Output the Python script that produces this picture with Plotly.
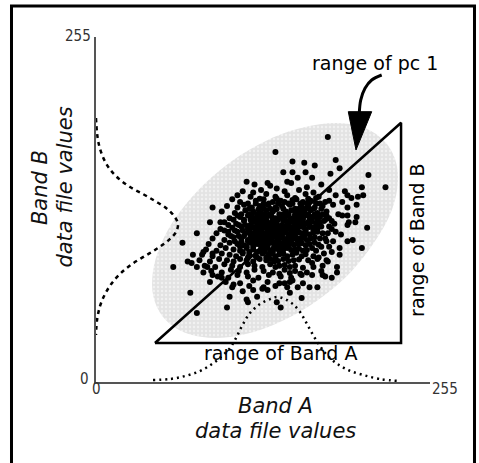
import plotly.graph_objects as go

# ---------------- data (axis units 0..255) ----------------
axis_ticks = [0, 255]
axis_tick_text = ["0", "255"]

# marginal distribution of Band B (drawn against the y axis): x = density, y = Band B value
band_b_curve_density = [0, 0.8, 2.3, 5.3, 9.9, 16.8, 26.0, 35.9, 45.0, 53.5, 59.6, 62.6,
                        61.1, 55.7, 47.3, 37.4, 27.5, 19.1, 12.2, 6.9, 3.1, 0.8, 0]
band_b_curve_value = [195.1, 184.0, 175.2, 166.3, 158.2, 150.8, 144.1, 138.9, 133.8, 128.6, 122.7, 116.8,
                      110.9, 105.0, 99.0, 93.1, 87.2, 80.6, 73.2, 65.0, 56.2, 45.8, 34.7]

# marginal distribution of Band A (drawn against the x axis)
band_a_curve_value = [43.5, 56.5, 68.0, 79.4, 88.6, 96.2, 102.3, 106.9, 111.5, 117.6, 125.2, 132.9, 138.2,
                      144.3, 150.4, 155.8, 160.3, 164.9, 169.5, 175.6, 183.3, 192.4, 203.9, 216.8, 232.1]
band_a_curve_density = [1.5, 2.2, 4.4, 8.1, 13.3, 19.2, 25.1, 32.5, 41.4, 51.0, 57.6, 61.3, 62.8,
                        61.3, 57.6, 51.7, 44.3, 36.2, 28.8, 20.7, 14.0, 8.9, 5.2, 2.2, 0.7]

# outline of the shaded data region
region_band_a = [222.6, 229.5, 230.0, 224.1, 212.3, 195.3, 174.4, 150.9, 126.4, 102.5, 81.1, 63.4,
                 50.7, 43.8, 43.4, 49.2, 61.0, 78.0, 98.9, 122.5, 147.0, 170.8, 192.2, 210.0, 222.6]
region_band_b = [175.3, 160.8, 142.9, 122.9, 103.1, 82.1, 64.1, 49.3, 38.8, 33.3, 33.2, 38.4,
                 48.6, 63.2, 81.1, 101.0, 121.7, 141.8, 159.9, 174.6, 185.1, 190.6, 190.8, 185.6, 175.3]

# range triangle (pc 1 diagonal, range of Band A, range of Band B)
triangle_band_a = [45.0, 232.9, 232.9, 45.0]
triangle_band_b = [28.8, 191.6, 28.8, 28.8]

# curved arrow pointing to pc 1
arrow_shaft_a = [218.1, 210.5, 205.4, 202.1, 201.0]
arrow_shaft_b = [226.9, 223.2, 217.1, 208.4, 198.6]
arrow_head_a = [192.6, 210.5, 198.5, 192.6]
arrow_head_b = [199.8, 199.8, 171.5, 199.8]

# scattered pixels (Band A, Band B)
cloud_points = [
    # sparse outer pixels
    (177, 181), (137, 170), (150, 163), (159, 162), (167, 160), (183, 164), (143, 155), (150, 155),
    (160, 155), (179, 154), (208, 153), (221, 144), (115, 148), (131, 147), (146, 148), (203, 144),
    (200, 137), (199, 122), (207, 114), (196, 105), (203, 99), (186, 94), (184, 85), (175, 78),
    (169, 70), (157, 62), (141, 55), (148, 66), (144, 73), (131, 68), (120, 68), (115, 61),
    (123, 63), (102, 63), (100, 55), (112, 67), (72, 66), (77, 51), (59, 85), (66, 103),
    (77, 110), (89, 129), (95, 118), (87, 118), (104, 135), (108, 129), (73, 88), (77, 85),
    (85, 85), (89, 95), (120, 140), (101, 111), (108, 123), (82, 96), (74, 94), (70, 89),
    (82, 81), (89, 79), (87, 74), (96, 77), (105, 72), (116, 59), (128, 70),
    (186, 158), (154, 151), (165, 151), (192, 138), (204, 138), (199, 131), (192, 123), (198, 118),
    (192, 116), (186, 99), (192, 104), (180, 96), (177, 89), (184, 81), (180, 77), (173, 79),
    (154, 70), (138, 59),
    # main cluster
    (121, 146), (133, 145), (149, 147), (161, 144), (172, 146),
    (112, 141), (126, 142), (138, 143), (144, 141), (155, 142), (166, 140), (178, 142), (190, 141),
    (108, 138), (118, 137), (130, 139), (137, 137), (146, 138), (152, 136), (160, 139), (170, 137),
    (183, 138), (195, 136),
    (110, 133), (122, 134), (128, 135), (135, 133), (141, 134), (147, 132), (153, 135), (158, 133),
    (164, 134), (171, 132), (178, 134), (188, 133),
    (100, 130), (113, 131), (119, 129), (125, 130), (131, 131), (137, 129), (142, 130), (148, 131),
    (152, 128), (157, 130), (162, 131), (167, 129), (173, 130), (181, 131), (192, 129),
    (96, 126), (106, 125), (114, 127), (120, 126), (126, 125), (130, 127), (135, 126), (140, 124),
    (145, 126), (149, 127), (154, 125), (159, 126), (164, 127), (169, 125), (176, 126), (185, 124),
    (102, 121), (110, 122), (116, 123), (121, 121), (127, 122), (132, 123), (137, 121), (141, 122),
    (146, 123), (150, 121), (155, 122), (160, 123), (165, 121), (171, 122), (178, 121), (188, 123),
    (98, 118), (107, 117), (113, 119), (119, 118), (124, 117), (129, 119), (134, 118), (138, 117),
    (143, 119), (148, 118), (152, 117), (157, 119), (162, 118), (168, 117), (174, 119), (182, 117),
    (193, 118),
    (95, 113), (104, 114), (111, 115), (116, 113), (121, 114), (126, 115), (131, 113), (136, 114),
    (140, 115), (145, 113), (150, 114), (155, 115), (160, 113), (166, 114), (172, 115), (180, 113),
    (92, 110), (101, 109), (108, 111), (114, 110), (119, 109), (124, 111), (128, 110), (133, 109),
    (138, 111), (142, 110), (147, 109), (152, 111), (157, 110), (163, 109), (169, 111), (177, 110),
    (187, 109),
    (89, 106), (98, 105), (105, 107), (111, 106), (116, 105), (121, 107), (126, 106), (131, 105),
    (135, 107), (140, 106), (145, 105), (150, 107), (155, 106), (161, 105), (167, 107), (175, 106),
    (86, 102), (95, 101), (102, 103), (108, 102), (113, 101), (118, 103), (123, 102), (128, 101),
    (133, 103), (138, 102), (143, 101), (148, 103), (154, 102), (160, 101), (167, 103),
    (84, 98), (92, 97), (99, 99), (105, 98), (110, 97), (115, 99), (120, 98), (125, 97),
    (130, 99), (135, 98), (140, 97), (146, 99), (152, 98), (158, 97), (165, 99),
    (81, 94), (89, 93), (96, 95), (102, 94), (107, 93), (112, 95), (117, 94), (122, 93),
    (127, 95), (132, 94), (137, 93), (143, 95), (150, 94), (157, 93),
    (79, 90), (87, 89), (94, 91), (100, 90), (105, 89), (110, 91), (115, 90), (120, 89),
    (125, 91), (130, 90), (136, 89), (143, 91), (151, 90),
    (83, 86), (91, 85), (98, 87), (104, 86), (110, 85), (116, 87), (121, 86), (127, 85),
    (133, 87), (140, 86), (148, 85),
    (88, 82), (96, 81), (103, 83), (109, 82), (115, 81), (121, 83), (128, 82), (135, 81),
    (144, 83), (152, 82), (161, 81),
    (93, 78), (101, 77), (108, 79), (116, 78), (124, 77), (132, 79), (141, 78), (149, 77), (157, 79),
    (99, 74), (110, 73), (120, 75), (131, 74), (140, 73), (150, 75),
    (104, 70), (117, 71), (127, 69), (137, 71), (146, 70),
    # dense core
    (116, 132), (132, 132), (144, 133), (150, 132), (161, 132), (175, 133),
    (117, 128), (128, 128), (133, 128), (138, 128), (143, 128), (155, 128), (160, 128), (166, 128), (172, 128),
    (111, 124), (117, 124), (123, 124), (129, 124), (133, 124), (143, 124), (147, 124), (152, 124),
    (157, 124), (162, 124), (167, 124), (173, 124),
    (105, 120), (113, 120), (118, 120), (124, 120), (130, 120), (135, 120), (139, 120), (144, 120),
    (148, 120), (153, 120), (158, 120), (163, 120), (169, 120), (175, 120),
    (101, 116), (109, 116), (114, 116), (118, 116), (123, 116), (128, 116), (133, 116), (137, 116),
    (142, 116), (147, 116), (152, 116), (157, 116), (163, 116), (170, 116),
    (98, 112), (106, 112), (112, 112), (117, 112), (122, 112), (126, 112), (131, 112), (135, 112),
    (140, 112), (144, 112), (149, 112), (154, 112), (160, 112), (166, 112),
    (103, 108), (109, 108), (113, 108), (118, 108), (123, 108), (128, 108), (132, 108), (137, 108),
    (142, 108), (147, 108), (152, 108), (159, 108),
    (106, 104), (111, 104), (116, 104), (120, 104), (125, 104), (129, 104), (134, 104), (139, 104),
    (144, 104), (149, 104), (156, 104),
    (110, 100), (115, 100), (120, 100), (126, 100), (131, 100), (136, 100), (141, 100), (147, 100),
    (112, 96), (117, 96), (123, 96), (129, 96), (135, 96), (142, 96),
    (116, 92), (123, 92), (130, 92), (137, 92),
    # darkest part of the core
    (125, 135.5), (138, 135.5), (150, 134.5), (162, 135.5), (168, 136),
    (122, 132), (128, 132), (139, 132), (156, 132), (168, 132),
    (124, 127.5), (137, 127.5), (152, 127), (157, 127.5), (162, 129),
    (119, 123.5), (124, 122.5), (134, 122.5), (144, 121.5), (152, 122.5), (158, 121.5), (163, 122.5), (168, 122.5),
    (121, 118.5), (126, 118.5), (131, 117), (136, 118.5), (146, 117), (150, 118.5), (155, 117.5), (160, 117),
    (165, 118.5), (171, 118),
    (119, 114.5), (124, 113.5), (129, 114), (134, 112.5), (138, 113.5), (143, 114.5), (148, 113), (153, 113),
    (158, 114.5), (163, 114.5), (169, 113),
    (117, 110.5), (121, 110.5), (126, 109), (131, 110.5), (135, 110), (140, 109), (145, 110.5), (150, 109.5),
    (155, 110.5), (160, 110.5), (166, 110.5), (173, 110),
    (119, 106.5), (124, 105.5), (129, 106.5), (133, 106), (138, 106.5), (143, 106.5), (148, 105.5), (153, 105.5),
    (158, 106.5), (164, 106), (171, 106),
    (121, 102.5), (126, 103), (131, 102), (136, 103), (141, 102.5), (146, 101.5), (151, 101.5), (157, 102.5),
    (163, 102), (170, 101.5),
    (128, 98.5), (133, 97), (138, 98.5), (143, 98), (149, 97.5), (155, 98.5), (161, 97.5), (168, 97),
    (134, 95), (140, 94.5), (146, 93), (153, 95.5), (160, 94.5), (166, 93),
    (133, 91), (139, 89.5), (147, 89.5), (155, 90.5), (162, 90), (169, 91),
    (137, 85), (144, 86.5), (152, 86), (158, 84.5), (166, 85), (173, 86),
    (140, 80), (148, 80.5), (156, 80), (165, 79), (148, 74), (158, 73), (163, 70),
    # right flank of the core
    (176, 123), (180, 119), (178, 115), (183, 111), (176, 104), (181, 104), (172, 100), (178, 100),
    (174, 95), (170, 92), (176, 90), (165, 88), (172, 82),
]
cloud_band_a = [p[0] for p in cloud_points]
cloud_band_b = [p[1] for p in cloud_points]

# ---------------- figure ----------------
fig = go.Figure()

fig.add_trace(go.Scatter(
    x=region_band_a, y=region_band_b, mode="lines", line=dict(width=0, shape="spline"),
    fill="toself", fillcolor="#e6e6e6",
    fillpattern=dict(shape=".", bgcolor="#e3e3e3", fgcolor="#ffffff", size=4, solidity=0.3),
    hoverinfo="skip"))

fig.add_trace(go.Scatter(
    x=band_b_curve_density, y=band_b_curve_value, mode="lines",
    line=dict(color="black", width=2.5, dash="4px,4px", shape="spline"), hoverinfo="skip"))

fig.add_trace(go.Scatter(
    x=band_a_curve_value, y=band_a_curve_density, mode="lines",
    line=dict(color="black", width=2.5, dash="2px,4px", shape="spline"), hoverinfo="skip"))

fig.add_trace(go.Scatter(
    x=cloud_band_a, y=cloud_band_b, mode="markers",
    marker=dict(color="black", size=6, line=dict(width=0)), hoverinfo="skip"))

fig.add_trace(go.Scatter(
    x=triangle_band_a, y=triangle_band_b, mode="lines",
    line=dict(color="black", width=2.5), hoverinfo="skip"))

fig.add_trace(go.Scatter(
    x=arrow_shaft_a, y=arrow_shaft_b, mode="lines",
    line=dict(color="black", width=3, shape="spline"), hoverinfo="skip"))

fig.add_trace(go.Scatter(
    x=arrow_head_a, y=arrow_head_b, mode="lines", line=dict(color="black", width=1),
    fill="toself", fillcolor="black", hoverinfo="skip"))

label_font = dict(family="DejaVu Sans", size=19, color="black")
title_font = dict(family="DejaVu Sans", size=21, color="#111111", style="italic")
tick_font = dict(family="Liberation Sans Narrow, DejaVu Sans Condensed, sans-serif", size=15, color="#333333")

annotations = [
    dict(x=213.0, y=235.5, xref="x", yref="y", text="range of pc 1", font=label_font),
    dict(x=140.5, y=21.1, xref="x", yref="y", text="range of Band A", font=label_font),
    dict(x=244.6, y=105.3, xref="x", yref="y", text="range of Band B", font=label_font, textangle=-90),
    dict(x=0.536, y=-0.0696, xref="paper", yref="paper", text="Band A", font=title_font),
    dict(x=0.536, y=-0.142, xref="paper", yref="paper", text="data file values", font=title_font),
    dict(x=-0.1677, y=0.565, xref="paper", yref="paper", text="Band B", font=title_font, textangle=-90),
    dict(x=-0.0913, y=0.565, xref="paper", yref="paper", text="data file values", font=title_font, textangle=-90),
    # tick labels
    dict(x=axis_ticks[0], y=0, xref="x", yref="y", text=axis_tick_text[0], font=tick_font,
         xanchor="center", yshift=-7),
    dict(x=axis_ticks[1], y=0, xref="x", yref="y", text=axis_tick_text[1], font=tick_font,
         xanchor="left", yshift=-7),
    dict(x=0, y=axis_ticks[0], xref="x", yref="y", text=axis_tick_text[0], font=tick_font,
         xanchor="right", xshift=-5, yshift=3.5),
    dict(x=0, y=axis_ticks[1], xref="x", yref="y", text=axis_tick_text[1], font=tick_font,
         xanchor="right", xshift=-3, yshift=1),
]
for a in annotations:
    a["showarrow"] = False
    a.setdefault("xanchor", "center")
    a.setdefault("yanchor", "middle")

fig.update_layout(
    width=479, height=463,
    margin=dict(l=96, r=49, t=37, b=81, pad=0),
    paper_bgcolor="white", plot_bgcolor="white",
    showlegend=False,
    annotations=annotations,
    shapes=[dict(type="path", xref="paper", yref="paper",
                 path="M -0.253,-0.35 L -0.253,1.0899 L 1.1332,1.0899 L 1.1332,-0.35",
                 line=dict(color="black", width=3))],
)
axis_style = dict(range=[0, 255], showline=True, linecolor="#555555", linewidth=1.5,
                  showgrid=False, zeroline=False, showticklabels=False, ticks="", fixedrange=True)
fig.update_xaxes(**axis_style)
fig.update_yaxes(**axis_style)

fig.write_html("out.html", config={"displayModeBar": False},
               post_script="document.body.style.margin='0';")
